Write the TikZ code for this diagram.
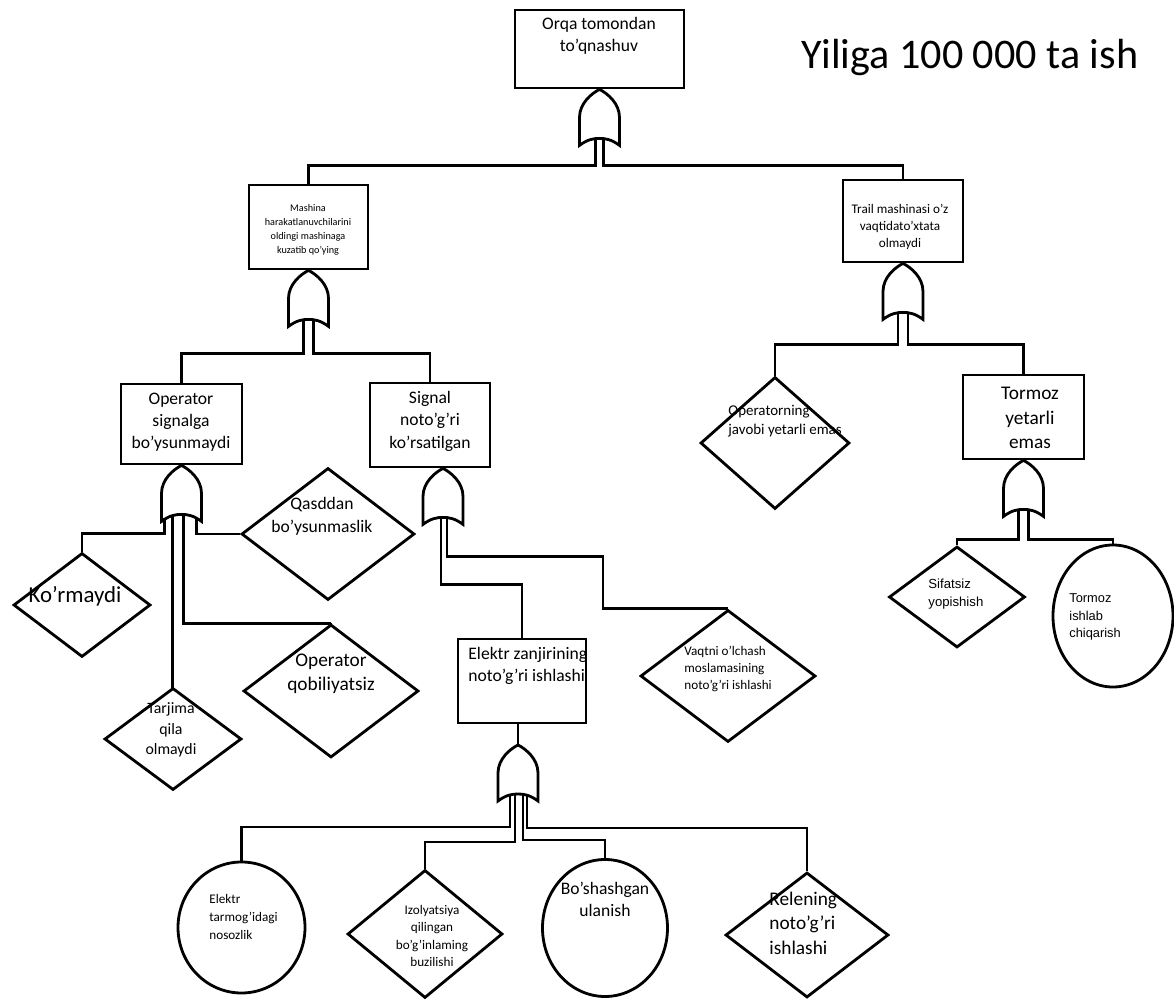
\documentclass[tikz,border=0pt]{standalone}
\usepackage{fontspec}
\setmainfont{Carlito}[Ligatures=ResetAll]
\newfontfamily\arialfont{Liberation Sans}[Ligatures=ResetAll]
\usetikzlibrary{shapes.geometric}
\newcommand{\fsz}[2]{\fontsize{#1}{#2}\selectfont}

\begin{document}
\begin{tikzpicture}[x=0.02cm, y=-0.02cm, line width=1.6pt,
  event/.style 2 args={draw, rectangle, inner sep=0, minimum width=#1*0.02cm, minimum height=#2*0.02cm},
  basic/.style 2 args={draw, ellipse, inner sep=0, minimum width=#1*0.02cm, minimum height=#2*0.02cm},
  undev/.style 2 args={draw, diamond, inner sep=0, minimum width=#1*0.02cm, minimum height=#2*0.02cm},
  lbl/.style={inner sep=0, align=center},
  lbll/.style={inner sep=0, align=left, anchor=west},
  orgate/.pic={
    \draw (0,0) .. controls (-8,4) and (-20,14) .. (-20,28) -- (-20,56)
      .. controls (-12,50) and (-6,49) .. (0,49)
      .. controls (6,49) and (12,50) .. (20,56) -- (20,28)
      .. controls (20,14) and (8,4) .. (0,0) -- cycle;
    \coordinate (-top) at (0,0);
  }]

  \useasboundingbox (0,0) rectangle (1174,1000);

  % events
  \node[event={169}{78}] (top) at (599.5,49) {};
  \node[event={119}{84}] (mash) at (308.5,227) {};
  \node[event={120}{82}] (trail) at (903,221) {};
  \node[event={121}{80}] (oper) at (181.5,424) {};
  \node[event={120}{84}] (sig) at (430,425) {};
  \node[event={128}{84}] (elek) at (522,681) {};
  \node[event={121}{84}] (torm) at (1023.5,417) {};

  % undeveloped events
  \node[undev={137}{104}] (kor) at (82,605) {};
  \node[undev={173}{132}] (qas) at (328,534) {};
  \node[undev={137}{102}] (tar) at (173,739) {};
  \node[undev={175}{133}] (opq) at (331,691) {};
  \node[undev={175}{132}] (vaq) at (728,676) {};
  \node[undev={155}{128}] (izo) at (425,934) {};
  \node[undev={163}{125}] (rel) at (807,935) {};
  \node[undev={149}{132}] (opj) at (775,443) {};
  \node[undev={136}{101}] (sif) at (957,597) {};

  % basic events
  \node[basic={127}{131}] (etn) at (241.5,927.5) {};
  \node[basic={125}{137}] (bos) at (605,928) {};
  \node[basic={120}{142}] (tic) at (1113,616) {};

  % texts
  \node[lbl, font=\fsz{24}{28}] (title) at (970,57) {Yiliga 100 000 ta ish};
  \node[lbl, font=\fsz{10}{12.5}] (t-top) at (599,36) {Orqa tomondan\\to'qnashuv};
  \node[lbl, font=\fsz{5.8}{8}] (t-mash) at (308,230) {Mashina\\harakatlanuvchilarini\\oldingi mashinaga\\kuzatib qo'ying};
  \node[lbl, font=\fsz{7.5}{9.6}] (t-trail) at (900,227) {Trail mashinasi o'z\\vaqtidato'xtata\\olmaydi};
  \node[lbl, font=\fsz{10}{12.5}] (t-oper) at (181,422) {Operator\\signalga\\bo'ysunmaydi};
  \node[lbl, font=\fsz{10}{12.8}] (t-sig) at (430,421) {Signal\\noto'g'ri\\ko'rsatilgan};
  \node[lbl, font=\fsz{13}{15}] (t-kor) at (75,596) {Ko'rmaydi};
  \node[lbl, font=\fsz{10}{13}] (t-qas) at (322,516) {Qasddan\\bo'ysunmaslik};
  \node[lbl, font=\fsz{9}{11.5}] (t-tar) at (171,730) {Tarjima\\qila\\olmaydi};
  \node[lbl, font=\fsz{11}{13.6}] (t-opq) at (331,674) {Operator\\qobiliyatsiz};
  \node[lbll, font=\fsz{10}{12.5}] (t-elek) at (467,666) {Elektr zanjirining\\noto'g'ri ishlashi};
  \node[lbll, font=\fsz{7.5}{9.6}] (t-vaq) at (683,669) {Vaqtni o'lchash\\moslamasining\\noto'g'ri ishlashi};
  \node[lbll, font=\fsz{7.5}{10}] (t-etn) at (208,917) {Elektr\\tarmog'idagi\\nosozlik};
  \node[lbl, font=\fsz{7.5}{10}] (t-izo) at (432,936) {Izolyatsiya\\qilingan\\bo'g'inlaming\\buzilishi};
  \node[lbl, font=\fsz{10}{12.5}] (t-bos) at (605,899) {Bo'shashgan\\ulanish};
  \node[lbll, font=\fsz{11}{14}] (t-rel) at (768,923) {Relening\\noto'g'ri\\ishlashi};
  \node[lbll, font=\fsz{8.5}{10.8}] (t-opj) at (727,421.5) {Operatorning\\javobi yetarli emas};
  \node[lbl, font=\fsz{11}{14}] (t-torm) at (1030,418) {Tormoz\\yetarli\\emas};
  \node[lbll, font=\arialfont\fsz{7.5}{10.2}] (t-sif) at (927,594) {Sifatsiz\\yopishish};
  \node[lbll, font=\arialfont\fsz{7.3}{9.9}] (t-tic) at (1068,617) {Tormoz\\ishlab\\chiqarish};

  % or gates
  \pic (g0) at (top.south) {orgate};
  \pic (g1) at (mash.south) {orgate};
  \pic (g2) at (oper.south) {orgate};
  \pic (g3) at (sig.south -| 443,0) {orgate};
  \pic (g4) at (518,745) {orgate};
  \pic (g5) at (trail.south) {orgate};
  \pic (g6) at (torm.south) {orgate};

  % connectors
  \draw (elek.south -| g4-top) -- (g4-top);
  \draw (g0-top) ++(-4,50) -- ++(0,26) -| (mash.north);
  \draw (g0-top) ++(4,50) -- ++(0,26) -| (trail.north);
  \draw (g1-top) ++(-5,50) -- ++(0,33) -| (oper.north);
  \draw (g1-top) ++(5,50) -- ++(0,33) -| (sig.north);
  \draw (g2-top) ++(-17,53) -- ++(0,15) -| (kor.north);
  \draw (g2-top) ++(-9,50) |- (tar.north);
  \draw (g2-top) ++(2,50) -- ++(0,108) -| (opq.north);
  \draw (g2-top) ++(15,53) |- (qas.west);
  \draw (g3-top) ++(-2,50) -- ++(0,66) -| (elek.north);
  \draw (g3-top) ++(4,50) -- ++(0,38) -- ++(156,0) |- (vaq.north);
  \draw (g4-top) ++(-8,50) -- ++(0,32) -| (etn.north);
  \draw (g4-top) ++(-3,50) -- ++(0,47) -| (izo.north);
  \draw (g4-top) ++(5,50) -- ++(0,45) -| (bos.north);
  \draw (g4-top) ++(9,50) -- ++(0,33) -| (rel.north);
  \draw (g5-top) ++(-5,50) -- ++(0,31) -| (opj.north);
  \draw (g5-top) ++(5,50) -- ++(0,31) -| (torm.north);
  \draw (g6-top) ++(-5,50) -- ++(0,29) -| (sif.north);
  \draw (g6-top) ++(5,50) -- ++(0,29) -| (tic.north);

\end{tikzpicture}
\end{document}
